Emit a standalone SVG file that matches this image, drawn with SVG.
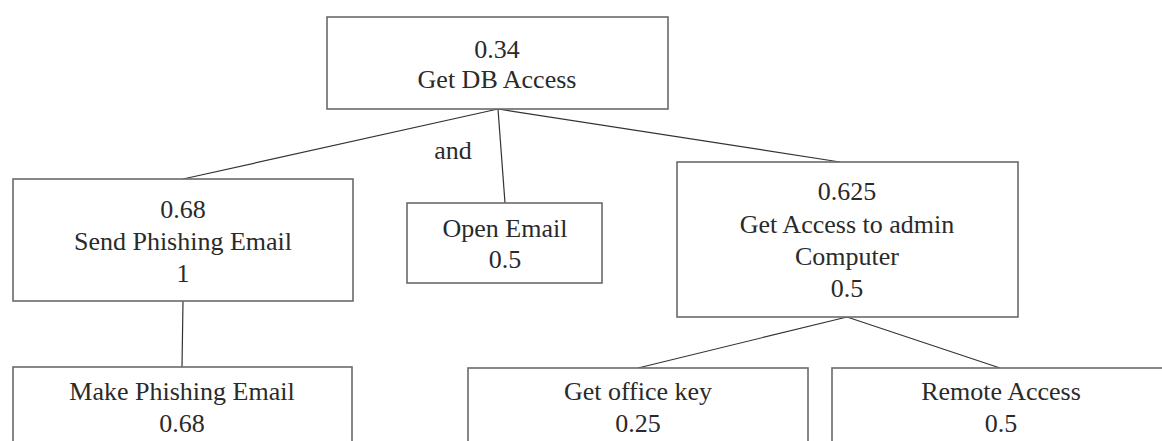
<svg xmlns="http://www.w3.org/2000/svg" width="1162" height="441" viewBox="0 0 1162 441">
<style>
.box{fill:#fff;stroke:#6a6a6a;stroke-width:1.6}
.c{stroke:#333;stroke-width:1.2;fill:none}
</style>
<rect width="1162" height="441" fill="#fff"/>
<g font-family="Liberation Serif, DejaVu Serif, Times New Roman, serif" font-size="26" fill="#2a2a2a" text-anchor="middle">
<g id="connectors">
<line class="c" x1="498" y1="109" x2="183" y2="179"/>
<line class="c" x1="498" y1="109" x2="505" y2="203"/>
<line class="c" x1="498" y1="109" x2="840" y2="162"/>
<line class="c" x1="183" y1="301" x2="182" y2="367"/>
<line class="c" x1="847" y1="317" x2="638" y2="368"/>
<line class="c" x1="847" y1="317" x2="1000" y2="368"/>
<text x="453" y="159">and</text>
</g>
<g id="root">
<rect class="box" x="327" y="17" width="341" height="92"/>
<text x="497" y="58">0.34</text>
<text x="497" y="88">Get DB Access</text>
</g>
<g id="send-phishing">
<rect class="box" x="13" y="179" width="340" height="122"/>
<text x="183" y="218">0.68</text>
<text x="183" y="250">Send Phishing Email</text>
<text x="183" y="282">1</text>
</g>
<g id="open-email">
<rect class="box" x="407" y="203" width="195" height="80"/>
<text x="505" y="237">Open Email</text>
<text x="505" y="268">0.5</text>
</g>
<g id="admin-computer">
<rect class="box" x="677" y="162" width="341" height="155"/>
<text x="847" y="200">0.625</text>
<text x="847" y="233">Get Access to admin</text>
<text x="847" y="265">Computer</text>
<text x="847" y="297">0.5</text>
</g>
<g id="make-phishing">
<rect class="box" x="13" y="367" width="339" height="90"/>
<text x="182" y="400">Make Phishing Email</text>
<text x="182" y="432">0.68</text>
</g>
<g id="office-key">
<rect class="box" x="468" y="368" width="340" height="90"/>
<text x="638" y="400">Get office key</text>
<text x="638" y="432">0.25</text>
</g>
<g id="remote-access">
<rect class="box" x="832" y="368" width="340" height="90"/>
<text x="1001" y="400">Remote Access</text>
<text x="1001" y="432">0.5</text>
</g>
</g>
</svg>
